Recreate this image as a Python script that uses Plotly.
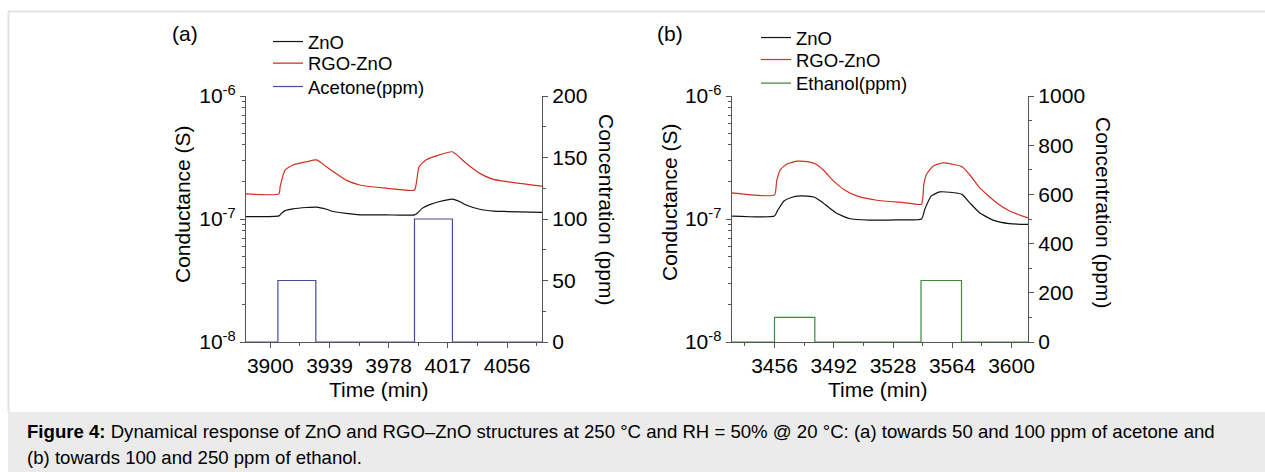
import plotly.graph_objects as go

W, H = 1265, 472
def px(x): return x / W
def py(y): return 1 - y / H

# ---------------- Data: panel (a) acetone ----------------
t_zno_a = [3884, 3905.7, 3907, 3909.7, 3915, 3924, 3930.5, 3937, 3941.5, 3950, 3959, 3976, 3995,
           3997, 4000, 4005, 4011, 4020, 4025, 4029, 4038, 4047, 4056, 4079]
g_zno_a = [1.045e-7, 1.06e-7, 1.10e-7, 1.17e-7, 1.21e-7, 1.24e-7, 1.25e-7, 1.20e-7, 1.15e-7, 1.11e-7,
           1.08e-7, 1.08e-7, 1.08e-7, 1.12e-7, 1.22e-7, 1.31e-7, 1.38e-7, 1.45e-7, 1.38e-7, 1.30e-7,
           1.20e-7, 1.16e-7, 1.15e-7, 1.13e-7]
t_rgo_a = [3884, 3905.7, 3906.5, 3909.7, 3915, 3924, 3930.5, 3937, 3941.5, 3950, 3959, 3976, 3995,
           3996.5, 3998, 4002.5, 4011, 4020, 4029, 4038, 4047, 4056, 4079]
g_rgo_a = [1.60e-7, 1.60e-7, 1.83e-7, 2.50e-7, 2.75e-7, 2.92e-7, 3.02e-7, 2.66e-7, 2.43e-7, 2.07e-7,
           1.89e-7, 1.78e-7, 1.72e-7, 2.07e-7, 2.66e-7, 3.02e-7, 3.31e-7, 3.52e-7, 2.84e-7, 2.35e-7,
           2.10e-7, 2.01e-7, 1.85e-7]
t_ace = [3884, 3905, 3905, 3930, 3930, 3995, 3995, 4020, 4020, 4079]
c_ace = [0, 0, 50, 50, 0, 0, 100, 100, 0, 0]

# ---------------- Data: panel (b) ethanol ----------------
t_zno_b = [3430, 3456, 3457.7, 3461.7, 3465.8, 3471.8, 3479.9, 3484, 3493.2, 3501.3, 3513.4, 3529.5,
           3545.3, 3547.3, 3551.3, 3556.4, 3562.4, 3569.9, 3574.5, 3580.6, 3588.7, 3598.8, 3610]
g_zno_b = [1.057e-7, 1.057e-7, 1.16e-7, 1.40e-7, 1.49e-7, 1.54e-7, 1.51e-7, 1.40e-7, 1.125e-7, 1.01e-7,
           0.98e-7, 0.985e-7, 1.0e-7, 1.2e-7, 1.54e-7, 1.66e-7, 1.65e-7, 1.585e-7, 1.36e-7, 1.125e-7,
           0.98e-7, 0.916e-7, 0.905e-7]
t_rgo_b = [3430, 3456, 3457.3, 3459.7, 3463.8, 3469.8, 3475.9, 3480.7, 3486, 3492, 3498.1, 3506.1,
           3518.2, 3534.4, 3545.3, 3546.7, 3548.3, 3552.3, 3558.4, 3569.9, 3574.5, 3580.6, 3590.7,
           3598.8, 3610]
g_rgo_b = [1.63e-7, 1.57e-7, 2.03e-7, 2.53e-7, 2.81e-7, 2.95e-7, 2.93e-7, 2.81e-7, 2.48e-7, 2.03e-7,
           1.74e-7, 1.54e-7, 1.42e-7, 1.36e-7, 1.32e-7, 1.91e-7, 2.30e-7, 2.69e-7, 2.86e-7, 2.66e-7,
           2.30e-7, 1.80e-7, 1.36e-7, 1.16e-7, 1.02e-7]
t_eth = [3430, 3456, 3456, 3480.5, 3480.5, 3545, 3545, 3569.6, 3569.6, 3610]
c_eth = [0, 0, 100, 100, 0, 0, 250, 250, 0, 0]

# ---------------- Ticks ----------------
xt_a = [3900, 3939, 3978, 4017, 4056]
xt_b = [3456, 3492, 3528, 3564, 3600]
yt_log = [1e-8, 1e-7, 1e-6]
yt_log_txt = ["10<sup>-8</sup>", "10<sup>-7</sup>", "10<sup>-6</sup>"]
yt_conc_a = [0, 50, 100, 150, 200]
yt_conc_b = [0, 200, 400, 600, 800, 1000]

FONT = "Arial, Liberation Sans, sans-serif"
AX = "#555555"
C_ZNO, C_RGO, C_ACE, C_ETH = "#111111", "#d0301f", "#4a4a9a", "#3d8a3d"

minor_log = [m * 10 ** e for e in (-8, -7) for m in range(2, 10)]

smooth = dict(shape="spline", smoothing=0.5)
fig = go.Figure()
fig.add_trace(go.Scatter(x=t_zno_a, y=g_zno_a, mode="lines", name="ZnO", line=dict(color=C_ZNO, width=1.2, **smooth),
                         xaxis="x", yaxis="y", legend="legend"))
fig.add_trace(go.Scatter(x=t_rgo_a, y=g_rgo_a, mode="lines", name="RGO-ZnO", line=dict(color=C_RGO, width=1.2, **smooth),
                         xaxis="x", yaxis="y", legend="legend2"))
fig.add_trace(go.Scatter(x=t_ace, y=c_ace, mode="lines", name="Acetone(ppm)", line=dict(color=C_ACE, width=1.2),
                         xaxis="x", yaxis="y2", legend="legend3"))
fig.add_trace(go.Scatter(x=t_zno_b, y=g_zno_b, mode="lines", name="ZnO", line=dict(color=C_ZNO, width=1.2, **smooth),
                         xaxis="x2", yaxis="y3", legend="legend4"))
fig.add_trace(go.Scatter(x=t_rgo_b, y=g_rgo_b, mode="lines", name="RGO-ZnO", line=dict(color=C_RGO, width=1.2, **smooth),
                         xaxis="x2", yaxis="y3", legend="legend5"))
fig.add_trace(go.Scatter(x=t_eth, y=c_eth, mode="lines", name="Ethanol(ppm)", line=dict(color=C_ETH, width=1.2),
                         xaxis="x2", yaxis="y4", legend="legend6"))

tickfont = dict(family=FONT, size=21, color="black")
common_x = dict(showline=True, linecolor=AX, linewidth=1.3, ticks="outside", ticklen=5, tickcolor=AX,
                tickwidth=1.3, showgrid=False, zeroline=False, tickfont=tickfont, tickmode="array",
                automargin=False)
common_log = dict(type="log", range=[-8, -6], showline=True, linecolor=AX, linewidth=1.3, ticks="outside",
                  ticklen=5, tickcolor=AX, tickwidth=1.3, showgrid=False, zeroline=False, tickfont=tickfont,
                  tickmode="array", tickvals=yt_log, ticktext=yt_log_txt, automargin=False,
                  minor=dict(tickmode="array", tickvals=minor_log, ticks="outside", ticklen=3,
                             tickcolor=AX, tickwidth=1, showgrid=False))
common_conc = dict(showline=True, linecolor=AX, linewidth=1.3, ticks="outside", ticklen=5, tickcolor=AX,
                   tickwidth=1.3, showgrid=False, zeroline=False, tickfont=tickfont, tickmode="array",
                   side="right", automargin=False)

ydom = [py(342), py(96)]
legfont = dict(family=FONT, size=18.5, color="black")
def leg(x, y):
    return dict(x=px(x), y=py(y), xanchor="left", yanchor="middle", font=legfont,
                bgcolor="rgba(0,0,0,0)", borderwidth=0)

fig.update_layout(
    width=W, height=H, margin=dict(l=0, r=0, t=0, b=0, pad=0, autoexpand=False),
    paper_bgcolor="white", plot_bgcolor="white",
    font=dict(family=FONT, color="black"),
    xaxis=dict(domain=[px(246), px(542)], range=[3884, 4079], anchor="y", tickvals=xt_a,
               minor=dict(tickmode="array", tickvals=[x + 19.5 for x in [3880.5] + xt_a], ticks="outside",
                          ticklen=3, tickcolor=AX), **common_x),
    yaxis=dict(domain=ydom, anchor="x", **common_log),
    yaxis2=dict(overlaying="y", anchor="x", range=[0, 200], tickvals=yt_conc_a,
                minor=dict(tickmode="array", tickvals=[25, 75, 125, 175], ticks="outside", ticklen=3,
                           tickcolor=AX), **common_conc),
    xaxis2=dict(domain=[px(731.7), px(1028)], range=[3430, 3610], anchor="y3", tickvals=xt_b,
                minor=dict(tickmode="array", tickvals=[3438, 3474, 3510, 3546, 3582], ticks="outside",
                           ticklen=3, tickcolor=AX), **common_x),
    yaxis3=dict(domain=ydom, anchor="x2", **common_log),
    yaxis4=dict(overlaying="y3", anchor="x2", range=[0, 1000], tickvals=yt_conc_b,
                minor=dict(tickmode="array", tickvals=[100, 300, 500, 700, 900], ticks="outside", ticklen=3,
                           tickcolor=AX), **common_conc),
    legend=leg(268, 42), legend2=leg(268, 63.5), legend3=leg(268, 87),
    legend4=leg(756, 38), legend5=leg(756, 60), legend6=leg(756, 83.5),
    showlegend=True,
)

# frame and caption background
fig.add_shape(type="rect", xref="paper", yref="paper", x0=px(8), x1=1, y0=0, y1=py(412),
              fillcolor="#ebebeb", line=dict(width=0), layer="below")
fig.add_shape(type="line", xref="paper", yref="paper", x0=px(8), x1=1, y0=py(11.5), y1=py(11.5),
              line=dict(color="#e2e2e2", width=2))
fig.add_shape(type="line", xref="paper", yref="paper", x0=px(8.5), x1=px(8.5), y0=py(412), y1=py(11.5),
              line=dict(color="#e2e2e2", width=2))

tf = dict(family=FONT, size=21, color="black")
ann = [
    dict(text="(a)", x=px(185), y=py(33), font=tf),
    dict(text="(b)", x=px(670), y=py(33), font=tf),
    dict(text="Conductance (S)", x=px(183), y=py(204), textangle=-90, font=tf),
    dict(text="Conductance (S)", x=px(669), y=py(202), textangle=-90, font=tf),
    dict(text="Concentration (ppm)", x=px(607), y=py(209), textangle=90, font=tf),
    dict(text="Concentration (ppm)", x=px(1104), y=py(212), textangle=90, font=tf),
    dict(text="Time (min)", x=px(379), y=py(389), font=tf),
    dict(text="Time (min)", x=px(878), y=py(389), font=tf),
]
for a in ann:
    fig.add_annotation(xref="paper", yref="paper", showarrow=False, xanchor="center", yanchor="middle", **a)

capf = dict(family=FONT, size=18.6, color="black")
fig.add_annotation(xref="paper", yref="paper", x=px(25), y=py(431), xanchor="left", yanchor="middle",
                   showarrow=False, font=capf,
                   text="<b>Figure 4:</b> Dynamical response of ZnO and RGO–ZnO structures at 250 °C and RH = 50% @ 20 °C: (a) towards 50 and 100 ppm of acetone and")
fig.add_annotation(xref="paper", yref="paper", x=px(25), y=py(457), xanchor="left", yanchor="middle",
                   showarrow=False, font=capf,
                   text="(b) towards 100 and 250 ppm of ethanol.")

fig.write_html("out.html")
